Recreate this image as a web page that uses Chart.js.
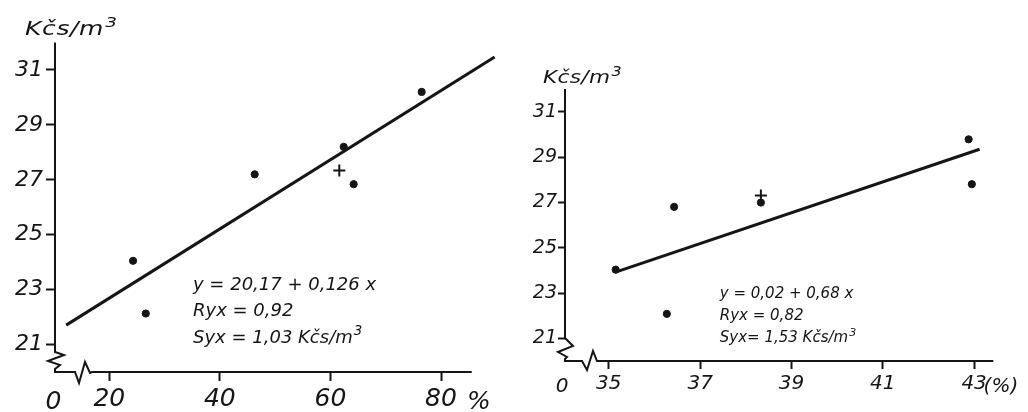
<!DOCTYPE html>
<html>
<head>
<meta charset="utf-8">
<script src="https://cdn.jsdelivr.net/npm/chart.js@4/dist/chart.umd.min.js"></script>
<style>
  html, body { margin: 0; padding: 0; background: #fff; }
  #wrap { position: relative; width: 1028px; height: 412px; overflow: hidden; background: #fff; }
  canvas { position: absolute; top: 0; }
  #left { left: 0; }
  #right { left: 520px; }
</style>
</head>
<body>
<div id="wrap">
  <canvas id="left" width="520" height="412"></canvas>
  <canvas id="right" width="508" height="412"></canvas>
</div>
<script>
// ---- left panel: cost per m3 against share (%) ----
const shareLeft = [24.3, 26.6, 46.3, 62.4, 64.2, 76.5];
const costLeft  = [24.05, 22.13, 27.2, 28.2, 26.84, 30.2];
const meanLeft  = [61.6, 27.34];
const fitLeft   = [20.17, 0.126];          // intercept, slope
const fitSpanLeft = [12.2, 89.7];          // x range the fitted line covers
const yTicksLeft = [21, 23, 25, 27, 29, 31];
const xTicksLeft = [20, 40, 60, 80];
const statsLeft = ['y = 20,17 + 0,126 x', 'Ryx = 0,92', 'Syx = 1,03 Kčs/m³'];

// ---- right panel: cost per m3 against share (%) ----
const shareRight = [35.15, 36.43, 36.27, 38.33, 42.88, 42.95];
const costRight  = [24.03, 26.8, 22.08, 26.99, 29.78, 27.8];
const meanRight  = [38.33, 27.3];
const fitRight   = [0.02, 0.68];
const fitSpanRight = [35.13, 43.12];
const yTicksRight = [21, 23, 25, 27, 29, 31];
const xTicksRight = [35, 37, 39, 41, 43];
const statsRight = ['y = 0,02 + 0,68 x', 'Ryx = 0,82', 'Syx= 1,53 Kčs/m³'];

const unitLabel = 'Kčs/m³';
const originLabel = '0';
const pctLeft = '%';
const pctRight = '(%)';

const INK = '#151515';
const FAMILY = '"DejaVu Sans", "Liberation Sans", sans-serif';

// text with a raised "3" for the cubic-metre unit
function richText(ctx, str, x, y, size, sx, spacing) {
  ctx.save();
  ctx.translate(x, y);
  ctx.scale(sx || 1, 1);
  ctx.fillStyle = INK;
  ctx.textAlign = 'left';
  ctx.textBaseline = 'alphabetic';
  if ('letterSpacing' in ctx) ctx.letterSpacing = (spacing || 0) + 'px';
  let cx = 0;
  for (const part of str.split(/(³)/)) {
    if (!part) continue;
    if (part === '³') {
      ctx.font = `italic ${size * 0.74}px ${FAMILY}`;
      ctx.fillText('3', cx + 1, -size * 0.4);
      cx += ctx.measureText('3').width + 1;
    } else {
      ctx.font = `italic ${size}px ${FAMILY}`;
      ctx.fillText(part, cx, 0);
      cx += ctx.measureText(part).width;
    }
  }
  ctx.restore();
}

// axis lines with the zig-zag breaks near the origin, plus the text
const brokenAxes = {
  id: 'brokenAxes',
  afterDatasetsDraw(chart, args, o) {
    const { ctx, chartArea: a } = chart;
    const xs = chart.scales.x, ys = chart.scales.y;
    const L = a.left, B = a.bottom;
    ctx.save();
    ctx.strokeStyle = INK;
    ctx.lineWidth = 2;
    ctx.lineJoin = 'miter';
    ctx.beginPath();
    ctx.moveTo(L, a.top);
    o.yZig.forEach(([dx, dy]) => ctx.lineTo(L + dx, B + dy));
    ctx.lineTo(L, B);
    o.xZig.forEach(([dx, dy]) => ctx.lineTo(L + dx, B + dy));
    ctx.lineTo(a.right, B);
    ctx.stroke();

    // origin label and unit suffix on the x axis
    ctx.fillStyle = INK;
    ctx.font = `italic ${o.xFont}px ${FAMILY}`;
    ctx.textBaseline = 'alphabetic';
    ctx.textAlign = 'center';
    ctx.fillText(originLabel, L + o.zeroDx, B + o.labelDy);
    ctx.textAlign = 'left';
    const last = o.xTicks[o.xTicks.length - 1];
    ctx.fillText(o.pct, xs.getPixelForValue(last) + o.pctDx, B + o.labelDy);
    ctx.restore();

    // axis title
    richText(ctx, unitLabel, o.title.x, o.title.y, o.title.size, o.title.sx, o.title.spacing);

    // regression statistics
    const px = xs.getPixelForValue(o.stats.at[0]);
    const py = ys.getPixelForValue(o.stats.at[1]);
    o.stats.lines.forEach((t, i) => richText(ctx, t, px, py + i * o.stats.lh, o.stats.size, 1, 0));
  }
};

function panel(canvas, p) {
  const tickFont = (size) => ({ family: FAMILY, size, style: 'italic' });
  return new Chart(canvas, {
    type: 'scatter',
    data: {
      datasets: [
        {
          data: p.xs.map((x, i) => ({ x, y: p.ys[i] })),
          pointRadius: 3.6,
          pointBackgroundColor: INK,
          pointBorderColor: INK,
          pointBorderWidth: 1
        },
        {
          data: [{ x: p.mean[0], y: p.mean[1] }],
          pointStyle: 'cross',
          pointRadius: 6,
          pointBorderColor: INK,
          pointBorderWidth: 2
        },
        {
          data: p.span.map(x => ({ x, y: p.fit[0] + p.fit[1] * x })),
          showLine: true,
          pointRadius: 0,
          borderColor: INK,
          borderWidth: 3,
          clip: false
        }
      ]
    },
    options: {
      responsive: false,
      animation: false,
      devicePixelRatio: 1,
      events: [],
      layout: { padding: { left: 0, top: p.top, right: p.right, bottom: 0 } },
      plugins: {
        legend: { display: false },
        tooltip: { enabled: false },
        brokenAxes: p.deco
      },
      scales: {
        x: {
          type: 'linear',
          min: p.xMin, max: p.xMax,
          afterFit: s => { s.height = p.xH; },
          afterBuildTicks: s => { s.ticks = p.xTicks.map(v => ({ value: v })); },
          border: { display: false },
          grid: { drawOnChartArea: false, drawTicks: true, tickLength: p.xTL, tickWidth: 2, tickColor: INK },
          ticks: { color: INK, font: tickFont(p.xFont), padding: p.xPad, maxRotation: 0, autoSkip: false,
                   callback: v => String(v) }
        },
        y: {
          type: 'linear',
          min: 20, max: 32,
          afterFit: s => { s.width = p.yW; },
          afterBuildTicks: s => { s.ticks = p.yTicks.map(v => ({ value: v })); },
          border: { display: false },
          grid: { drawOnChartArea: false, drawTicks: true, tickLength: p.yTL, tickWidth: 2, tickColor: INK },
          ticks: { color: INK, font: tickFont(p.yFont), padding: p.yPad, autoSkip: false,
                   callback: v => String(v) }
        }
      }
    },
    plugins: [brokenAxes]
  });
}

panel(document.getElementById('left'), {
  xs: shareLeft, ys: costLeft, mean: meanLeft, fit: fitLeft, span: fitSpanLeft,
  xTicks: xTicksLeft, yTicks: yTicksLeft,
  xMin: 10.18, xMax: 85.55,
  top: 42.5, right: 48.3, xH: 40, yW: 55,
  xTL: 9, yTL: 9, xFont: 25, yFont: 22, xPad: 3, yPad: 3,
  deco: {
    yZig: [[0, -20], [9, -17], [-7, -11], [5, -7], [0, -3]],
    xZig: [[20, 0], [24, 11], [30, -10], [35, 1], [37, 0]],
    xTicks: xTicksLeft, xFont: 25, zeroDx: -1.5, labelDy: 37, pct: pctLeft, pctDx: 26,
    title: { x: 25, y: 35, size: 20, sx: 1.25, spacing: 0.5 },
    stats: { at: [35.14, 23.0], lh: 26.5, size: 18, lines: statsLeft }
  }
});

panel(document.getElementById('right'), {
  xs: shareRight, ys: costRight, mean: meanRight, fit: fitRight, span: fitSpanRight,
  xTicks: xTicksRight, yTicks: yTicksRight,
  xMin: 34.04, xMax: 43.42,
  top: 89, right: 34.7, xH: 51, yW: 45,
  xTL: 8, yTL: 7, xFont: 20, yFont: 19, xPad: 3, yPad: 1,
  deco: {
    yZig: [[0, -23], [8, -15], [-7, -9], [2, -4], [0, -2]],
    xZig: [[17, 0], [22, 9], [28, -10], [32, 0]],
    xTicks: xTicksRight, xFont: 20, zeroDx: -3, labelDy: 31, pct: pctRight, pctDx: 9.5,
    title: { x: 23, y: 83, size: 18, sx: 1.2, spacing: 0.3 },
    stats: { at: [37.43, 22.76], lh: 21.8, size: 15, lines: statsRight }
  }
});
</script>
</body>
</html>
